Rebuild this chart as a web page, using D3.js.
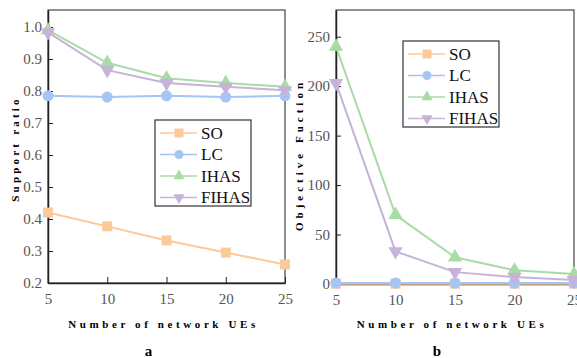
<!DOCTYPE html>
<html>
<head>
<meta charset="utf-8">
<script src="https://cdn.jsdelivr.net/npm/d3@7"></script>
<style>
  body { margin: 0; background: #fff; }
  svg, svg text { font-family: "Liberation Serif", "Times New Roman", Times, "DejaVu Serif", serif !important; }
</style>
</head>
<body>
<svg id="chart" width="577" height="358"></svg>
<script>
var ues = [5, 10, 15, 20, 25];
var seriesNames = ["SO", "LC", "IHAS", "FIHAS"];
var colors = {SO: "#fcc99a", LC: "#a6c4f4", IHAS: "#a9dba6", FIHAS: "#c5b3d9"};
var shapes = {SO: "square", LC: "circle", IHAS: "up", FIHAS: "down"};

// panel a: support ratio
var supportSO    = [0.420, 0.377, 0.333, 0.295, 0.258];
var supportLC    = [0.785, 0.781, 0.785, 0.781, 0.785];
var supportIHAS  = [0.990, 0.888, 0.840, 0.825, 0.813];
var supportFIHAS = [0.983, 0.865, 0.825, 0.813, 0.802];
var supportTicks = [0.2, 0.3, 0.4, 0.5, 0.6, 0.7, 0.8, 0.9, 1.0];

// panel b: objective function
var objSO    = [0.3, 0.3, 0.3, 0.3, 0.3];
var objLC    = [1.0, 1.0, 1.0, 1.0, 1.0];
var objIHAS  = [240, 70, 27, 14, 10];
var objFIHAS = [203, 33, 12, 7, 4];
var objTicks = [0, 50, 100, 150, 200, 250];

var svg = d3.select("#chart");

function marker(g, shape, x, y, s, color) {
  var sym = {square: d3.symbolSquare, circle: d3.symbolCircle, up: d3.symbolTriangle, down: d3.symbolTriangle}[shape];
  var area = shape == "square" ? s * s : shape == "circle" ? Math.PI * s * s / 4 : s * s * 0.45;
  g.append("path")
    .attr("d", d3.symbol().type(sym).size(area)())
    .attr("transform", "translate(" + x + "," + y + ")" + (shape == "down" ? " rotate(180)" : ""))
    .attr("fill", color);
}

function panel(opt) {
  var x = d3.scaleLinear().domain([5, 25]).range([opt.left, opt.right]);
  var y = d3.scaleLinear().domain(opt.domain).range([opt.bottom, opt.top]);
  var g = svg.append("g");

  // frame
  g.append("rect")
    .attr("x", opt.left).attr("y", opt.top)
    .attr("width", opt.right - opt.left).attr("height", opt.bottom - opt.top)
    .attr("fill", "none").attr("stroke", "#444").attr("stroke-width", 1.2);

  // axes, ticks pointing inward
  var xa = g.append("g").attr("transform", "translate(0," + opt.bottom + ")")
    .call(d3.axisBottom(x).tickValues(ues).tickSizeInner(-6).tickSizeOuter(0).tickPadding(10));
  var ya = g.append("g").attr("transform", "translate(" + opt.left + ",0)")
    .call(d3.axisLeft(y).tickValues(opt.ticks).tickFormat(opt.fmt).tickSizeInner(-5).tickSizeOuter(0).tickPadding(6));
  [xa, ya].forEach(function (a) {
    a.attr("font-family", null);
    a.select(".domain").attr("stroke", "#222").attr("stroke-width", 1.5);
    a.selectAll(".tick line").attr("stroke", "#222");
    a.selectAll("text").attr("fill", "#555").attr("font-size", 15);
  });

  // series
  var clip = "clip" + opt.id;
  svg.append("clipPath").attr("id", clip).append("rect")
    .attr("x", opt.left - 8).attr("y", opt.top).attr("width", opt.right - opt.left + 16).attr("height", opt.bottom - opt.top + 8);
  var lines = g.append("g").attr("clip-path", "url(#" + clip + ")");
  opt.series.forEach(function (name, i) {
    var vals = opt.values[i];
    var pts = ues.map(function (u, j) { return [x(u), y(vals[j])]; });
    lines.append("path").attr("d", d3.line()(pts))
      .attr("fill", "none").attr("stroke", colors[name]).attr("stroke-width", 2);
    pts.forEach(function (p) {
      var s = shapes[name] == "circle" ? 11 : shapes[name] == "square" ? 10 : 14;
      marker(lines, shapes[name], p[0], p[1], s, colors[name]);
    });
  });

  // legend
  var lg = g.append("g").attr("transform", "translate(" + opt.legend[0] + "," + opt.legend[1] + ")");
  lg.append("rect").attr("width", 96).attr("height", 86)
    .attr("fill", "#fff").attr("stroke", "#333").attr("stroke-width", 1.2);
  opt.series.forEach(function (name, i) {
    var yy = 13 + i * 21.5;
    lg.append("line").attr("x1", 5).attr("x2", 42).attr("y1", yy).attr("y2", yy)
      .attr("stroke", colors[name]).attr("stroke-width", 1.5);
    var s = shapes[name] == "circle" ? 9 : shapes[name] == "square" ? 9 : 11;
    marker(lg, shapes[name], 24, yy, s, colors[name]);
    lg.append("text").attr("x", 46).attr("y", yy + 5.5).attr("font-size", 17)
      .attr("fill", "#111").text(name);
  });

  // labels
  g.append("text").attr("x", (opt.left + opt.right) / 2 - 3).attr("y", 328)
    .attr("text-anchor", "middle").attr("font-size", 11).attr("font-weight", "bold")
    .attr("letter-spacing", 3.6).text("Number of network UEs");
  g.append("text").attr("transform", "translate(" + opt.ylabX + "," + opt.ylabY + ") rotate(-90)")
    .attr("text-anchor", "middle").attr("font-size", 11).attr("font-weight", "bold")
    .attr("letter-spacing", opt.ylabSpacing).text(opt.ylabel);
  g.append("text").attr("x", (opt.left + opt.right) / 2 - 18).attr("y", 356)
    .attr("text-anchor", "middle").attr("font-size", 15).attr("font-weight", "bold")
    .text(opt.id);
}

panel({
  id: "a", left: 48, right: 285, top: 10, bottom: 283,
  domain: [0.2, 1.053], ticks: supportTicks, fmt: d3.format(".1f"),
  series: seriesNames, values: [supportSO, supportLC, supportIHAS, supportFIHAS],
  legend: [155, 120], ylabel: "Support ratio", ylabX: 19, ylabY: 149, ylabSpacing: 3.2
});

panel({
  id: "b", left: 336, right: 574, top: 10, bottom: 284,
  domain: [0, 277], ticks: objTicks, fmt: d3.format("d"),
  series: seriesNames, values: [objSO, objLC, objIHAS, objFIHAS],
  legend: [403, 41], ylabel: "Objective Fuction", ylabX: 303, ylabY: 155, ylabSpacing: 4
});
</script>
</body>
</html>
